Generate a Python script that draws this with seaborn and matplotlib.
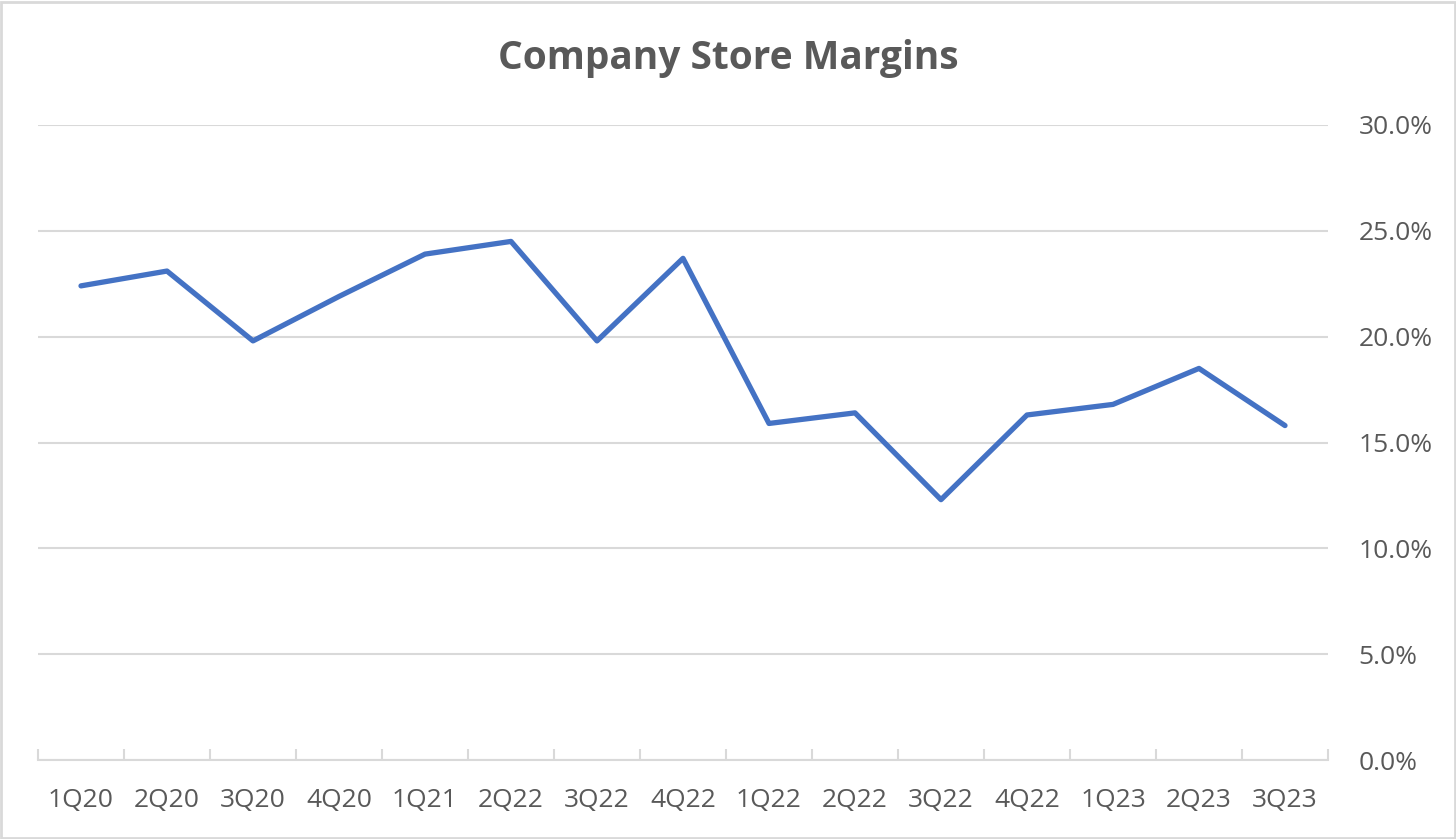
import pandas as pd
import matplotlib.pyplot as plt
import seaborn as sns
from matplotlib.ticker import PercentFormatter, FixedLocator

# Datos
trimestres = ["1Q20", "2Q20", "3Q20", "4Q20", "1Q21", "2Q22", "3Q22", "4Q22",
              "1Q22", "2Q22", "3Q22", "4Q22", "1Q23", "2Q23", "3Q23"]
margenes = [22.4, 23.1, 19.8, 21.9, 23.9, 24.5, 19.8, 23.7,
            15.9, 16.4, 12.3, 16.3, 16.8, 18.5, 15.8]

df = pd.DataFrame({"pos": range(len(trimestres)), "margen": margenes})

sns.set_style("white")
plt.rcParams["font.family"] = ["Open Sans", "DejaVu Sans"]

gris = "#595959"
linea_grid = "#d9d9d9"

fig = plt.figure(figsize=(14.56, 8.39), dpi=100)
ax = fig.add_axes([38 / 1456, 1 - 760 / 839, (1328 - 38) / 1456, (760 - 125) / 839])

sns.lineplot(data=df, x="pos", y="margen", ax=ax, color="#4472C4", linewidth=3.8,
             solid_joinstyle="round", solid_capstyle="round")

ax.set_xlim(-0.5, len(trimestres) - 0.5)
ax.set_ylim(0, 30)
ax.set_xticks(df["pos"])
ax.set_xticklabels(trimestres)
ax.xaxis.set_minor_locator(FixedLocator([i - 0.5 for i in range(len(trimestres) + 1)]))
ax.tick_params(axis="x", which="major", bottom=True, length=0, pad=20, labelsize=19,
               labelcolor=gris)
ax.tick_params(axis="x", which="minor", bottom=True, length=8, width=1.5, direction="in",
               color=linea_grid)

ax.yaxis.tick_right()
ax.set_yticks(range(0, 31, 5))
ax.yaxis.set_major_formatter(PercentFormatter(decimals=1))
ax.tick_params(axis="y", length=0, pad=22, labelsize=19, labelcolor=gris)
ax.grid(axis="y", color=linea_grid, linewidth=1.5)
ax.set_axisbelow(True)

for lado in ["top", "left", "right"]:
    ax.spines[lado].set_visible(False)
ax.spines["bottom"].set_color(linea_grid)
ax.spines["bottom"].set_linewidth(1.5)

ax.set_xlabel("")
ax.set_ylabel("")

fig.text(0.5, 1 - 58 / 839, "Company Store Margins", ha="center", va="center",
         fontsize=28, fontweight="bold", color=gris)

# marco del grafico
fig.patches.append(plt.Rectangle((0.001, 0.001), 0.998, 0.997, transform=fig.transFigure,
                                 fill=False, edgecolor=linea_grid, linewidth=2))

fig.savefig("out.png", dpi=100)
